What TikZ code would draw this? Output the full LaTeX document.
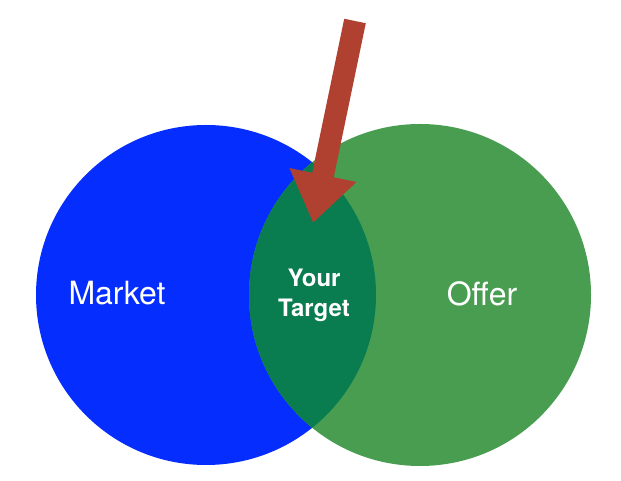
\documentclass[tikz,border=0pt]{standalone}
\usepackage{fontspec}
\setmainfont{TeX Gyre Heros}
\usetikzlibrary{arrows.meta}
\definecolor{marketblue}{RGB}{5,45,254}
\definecolor{offergreen}{RGB}{72,157,81}
\definecolor{targetgreen}{RGB}{9,124,80}
\definecolor{arrowred}{RGB}{176,65,48}
\begin{document}
\begin{tikzpicture}[x=1pt,y=1pt, set/.style={circle,inner sep=0pt,minimum size=#1}, label/.style={text=white,font=\fontsize{32}{38}\selectfont}]

\fill[white] (0,0) rectangle (621,481);
\useasboundingbox (0,0) rectangle (621,481);

\node[set=340pt,fill=marketblue] (market) at (206,186) {};
\node[set=342pt,fill=offergreen] (offer) at (420,186) {};

% overlap of the two sets
\begin{scope}
\clip (206,186) circle (170);
\fill[targetgreen] (420,186) circle (171);
\end{scope}

\node[label,anchor=base] (marketlabel) at (117,176) {Market};
\node[label,anchor=base] (offerlabel) at (482,175) {Offer};
\node[text=white,align=center,font=\bfseries\fontsize{24}{30}\selectfont] (target) at (314,186) {Your\\Target};

\coordinate (start) at (355,460);
\coordinate (tip) at (313,258);
\draw[arrowred,line width=22pt,-{Triangle[width=65pt,length=49pt]}] (start) -- (tip);
%,drop shadow
\end{tikzpicture}
\end{document}
